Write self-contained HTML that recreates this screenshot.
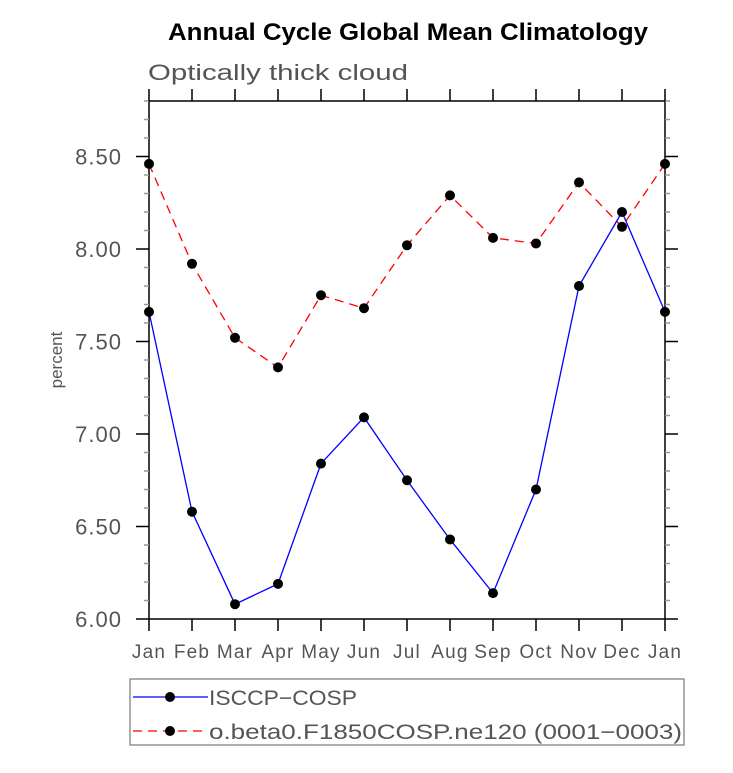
<!DOCTYPE html>
<html><head><meta charset="utf-8"><style>
body{margin:0;background:#fff}
svg text{font-family:"Liberation Sans",sans-serif}
</style></head><body>
<svg id="c" width="733" height="768" xmlns="http://www.w3.org/2000/svg">
<text x="168" y="40" font-size="24" font-weight="bold" fill="#000" textLength="480" lengthAdjust="spacingAndGlyphs">Annual Cycle Global Mean Climatology</text>
<text x="148" y="80" font-size="22" fill="#555" textLength="260" lengthAdjust="spacingAndGlyphs">Optically thick cloud</text>
<text x="62" y="360" font-size="17" fill="#555" text-anchor="middle" transform="rotate(-90 62 360)">percent</text>
<g id="ax"></g>
<g id="marks"></g>
<rect x="130" y="679" width="554" height="66" fill="none" stroke="#777" stroke-width="1.2"/>
<g>
<line x1="133" y1="697" x2="208" y2="697" stroke="#0000ff" stroke-width="1.3"/>
<circle cx="170" cy="697" r="5" fill="#000"/>
<text x="209" y="705" font-size="21" fill="#555" textLength="148" lengthAdjust="spacingAndGlyphs">ISCCP−COSP</text></g>
<g>
<line x1="133" y1="731" x2="208" y2="731" stroke="#ff0000" stroke-width="1.3" stroke-dasharray="9,6"/>
<circle cx="170" cy="731" r="5" fill="#000"/>
<text x="209" y="739" font-size="21" fill="#555" textLength="473" lengthAdjust="spacingAndGlyphs">o.beta0.F1850COSP.ne120 (0001−0003)</text></g>
</svg>
<script>
const months=["Jan","Feb","Mar","Apr","May","Jun","Jul","Aug","Sep","Oct","Nov","Dec","Jan"];
const isccp=[7.66,6.58,6.08,6.19,6.84,7.09,6.75,6.43,6.14,6.70,7.80,8.20,7.66];
const model=[8.46,7.92,7.52,7.36,7.75,7.68,8.02,8.29,8.06,8.03,8.36,8.12,8.46];
const yTicks=[6.00,6.50,7.00,7.50,8.00,8.50];
const yMin=6.0,yMax=8.8;
const L=149,R=665,T=101,B=619;
const NS="http://www.w3.org/2000/svg";
const X=i=>L+(R-L)*i/(months.length-1);
const Y=v=>B-(B-T)*(v-yMin)/(yMax-yMin);
function mk(t,a,p){const e=document.createElementNS(NS,t);for(const k in a)e.setAttribute(k,a[k]);p.appendChild(e);return e;}
const ax=document.getElementById('ax'),mg=document.getElementById('marks');
const frame=mk('rect',{x:L,y:T,width:R-L,height:B-T,fill:'none',stroke:'#000','stroke-width':1.5},ax);


for(let v=yMin;v<=yMax+1e-6;v+=0.1){
  const y=Y(v);const major=yTicks.some(t=>Math.abs(t-v)<1e-6);
  const len=major?13:5;
  const t1=mk('line',{x1:L-len,y1:y,x2:L,y2:y,stroke:major?'#000':'#999','stroke-width':1.5},ax);
  
  
  const t2=mk('line',{x1:R,y1:y,x2:R+len,y2:y,stroke:major?'#000':'#999','stroke-width':1.5},ax);
  
  
}
yTicks.forEach(v=>{
  const t=mk('text',{x:122,y:Y(v)+8,'text-anchor':'end','font-size':22,fill:'#555','letter-spacing':1},ax);t.textContent=v.toFixed(2);
  
  
});
months.forEach((m,i)=>{
  const x=X(i);
  const a=mk('line',{x1:x,y1:B,x2:x,y2:B+12,stroke:'#000','stroke-width':1.5},ax);
  
  
  const b=mk('line',{x1:x,y1:T-12,x2:x,y2:T,stroke:'#000','stroke-width':1.5},ax);
  
  
  const t=mk('text',{x:x,y:658,'text-anchor':'middle','font-size':19,fill:'#555','letter-spacing':1.2},ax);t.textContent=m;
  
  
});
function series(vals,color,dash,name){
  const pts=vals.map((v,i)=>X(i)+','+Y(v)).join(' ');
  const pl=mk('polyline',{points:pts,fill:'none',stroke:color,'stroke-width':1.3,'stroke-dasharray':dash},mg);
  
  
  vals.forEach((v,i)=>{
    const c=mk('circle',{cx:X(i),cy:Y(v),r:5,fill:'#000'},mg);
    
    
  });
}
series(model,'#ff0000','9,6','model');
series(isccp,'#0000ff','none','isccp');
</script>
</body></html>
